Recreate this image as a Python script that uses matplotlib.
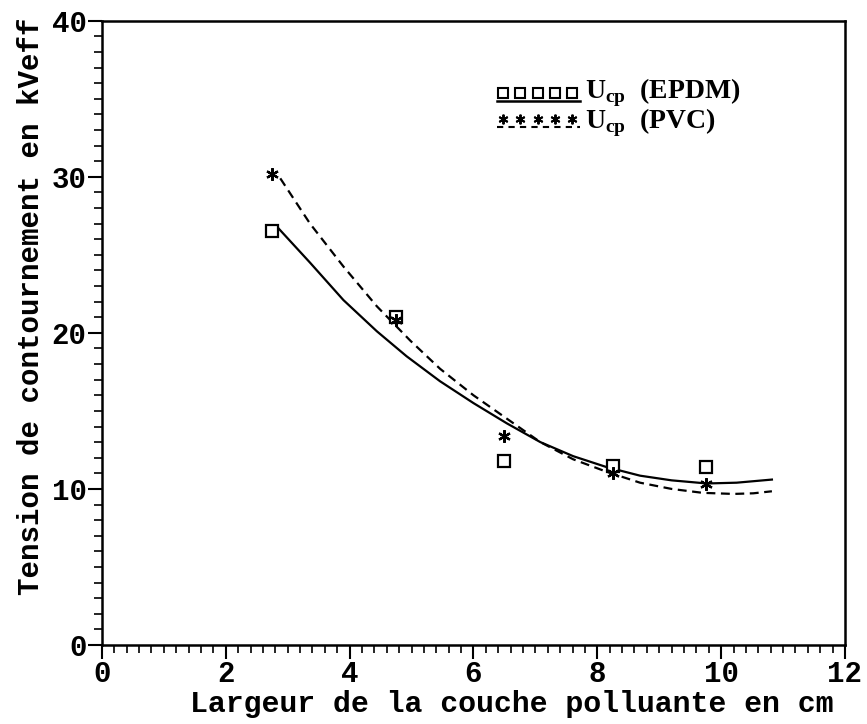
import numpy as np
import matplotlib
matplotlib.use("Agg")
import matplotlib.pyplot as plt
from matplotlib.ticker import MultipleLocator

# measured points
x_epdm = [2.75, 4.75, 6.5, 8.25, 9.75]
y_epdm = [26.5, 21.0, 11.8, 11.5, 11.4]
x_pvc = [2.75, 4.75, 6.5, 8.25, 9.75]
y_pvc = [30.2, 20.8, 13.4, 11.0, 10.3]

# fitted curves
xc_epdm = [2.85, 3.36, 3.90, 4.44, 4.92, 5.46, 6.00, 6.54, 7.08, 7.61, 8.15,
           8.69, 9.20, 9.77, 10.25, 10.82]
yc_epdm = [26.7, 24.5, 22.1, 20.1, 18.5, 16.9, 15.5, 14.2, 13.0, 12.1, 11.4,
           10.85, 10.55, 10.35, 10.4, 10.6]
xc_pvc = [2.88, 3.36, 3.90, 4.44, 4.98, 5.46, 6.00, 6.54, 7.08, 7.61, 8.15,
          8.69, 9.20, 9.70, 10.20, 10.52, 10.82]
yc_pvc = [29.9, 27.0, 24.25, 21.7, 19.5, 17.7, 16.0, 14.5, 13.0, 11.9, 11.1,
          10.4, 10.0, 9.75, 9.68, 9.72, 9.85]

labels = ["U$_{\\mathregular{cp}}$  (EPDM)", "U$_{\\mathregular{cp}}$  (PVC)"]
xlabel = "Largeur de la couche polluante en cm"
ylabel = "Tension de contournement en kVeff"

fig = plt.figure(figsize=(8.67, 7.24), dpi=100)
ax = fig.add_axes([0.1176, 0.1091, 0.8570, 0.8623])

ax.plot(xc_epdm, yc_epdm, color="black", lw=1.6)
ax.plot(xc_pvc, yc_pvc, color="black", lw=1.6, dashes=(4, 2.5))

ax.plot(x_epdm, y_epdm, ls="none", marker="s", ms=8, mfc="white", mec="black", mew=1.6)
ax.plot(x_pvc, y_pvc, ls="none", marker=(6, 2, 0), ms=9, mec="black", mew=1.6)

ax.set_xlim(0, 12)
ax.set_ylim(0, 40)
ax.xaxis.set_major_locator(MultipleLocator(2))
ax.xaxis.set_minor_locator(MultipleLocator(0.2))
ax.yaxis.set_major_locator(MultipleLocator(10))
ax.yaxis.set_minor_locator(MultipleLocator(1))
ax.tick_params(which="major", direction="out", length=10, width=1.5, labelsize=21, pad=1)
ax.tick_params(which="minor", direction="out", length=5.5, width=1.2)
for lab in ax.get_xticklabels() + ax.get_yticklabels():
    lab.set_family("Liberation Mono")
    lab.set_weight("bold")
for s in ax.spines.values():
    s.set_linewidth(1.8)

ax.set_xlabel(xlabel, family="Liberation Mono", weight="bold", fontsize=21.5, labelpad=0)
ax.xaxis.set_label_coords(0.552, -0.072)
ax.set_ylabel(ylabel, family="Liberation Mono", weight="bold", fontsize=21)
ax.yaxis.set_label_coords(-0.077, 0.543)

# legend drawn manually
tr = ax.transAxes
lx = np.linspace(0.540, 0.633, 5)
ax.plot([0.532, 0.644], [0.871, 0.871], color="black", lw=1.8, transform=tr)
ax.plot(lx, [0.884] * 5, ls="none", marker="s", ms=7, mfc="white", mec="black", mew=1.5, transform=tr)
ax.plot([0.532, 0.644], [0.829, 0.829], color="black", lw=1.5, dashes=(3, 2.5), transform=tr)
ax.plot(lx, [0.842] * 5, ls="none", marker=(6, 2, 0), ms=7, mec="black", mew=1.4, transform=tr)
ax.text(0.650, 0.860, "\n".join(labels), transform=tr, va="center", ha="left",
        family="Liberation Serif", weight="bold", fontsize=20, linespacing=0.88)

fig.savefig("out.png", dpi=100)
